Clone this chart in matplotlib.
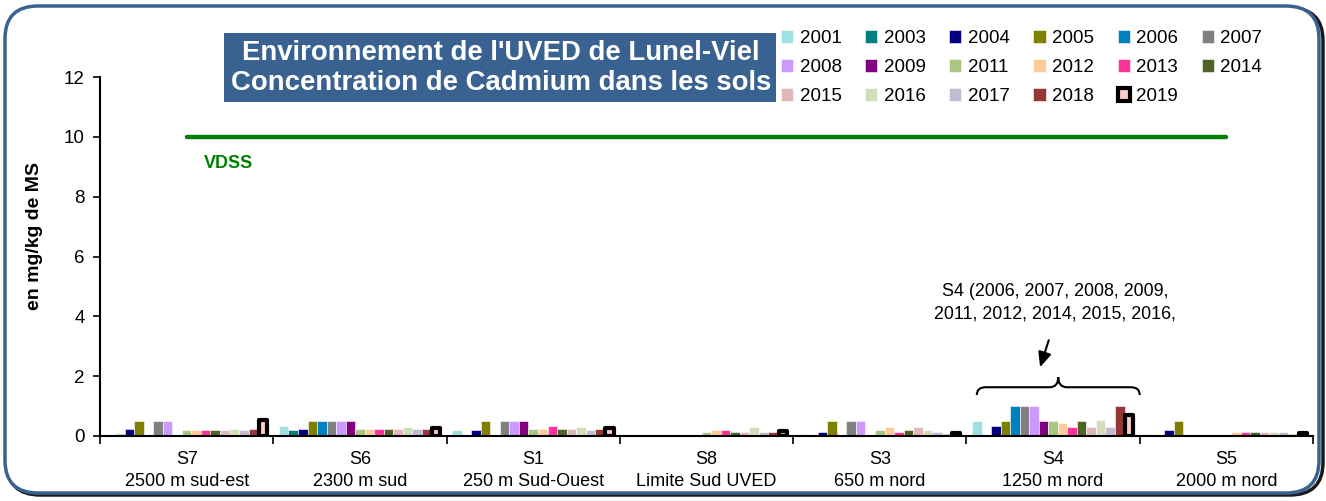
import numpy as np
import matplotlib
matplotlib.use("Agg")
import matplotlib.pyplot as plt
from matplotlib.patches import FancyBboxPatch, Rectangle, PathPatch
from matplotlib.path import Path

plt.rcParams['font.family'] = ['Liberation Sans', 'DejaVu Sans']

# sites (x categories)
sites = ['S7\n2500 m sud-est', 'S6\n2300 m sud', 'S1\n250 m Sud-Ouest', 'S8\nLimite Sud UVED',
         'S3\n650 m nord', 'S4\n1250 m nord', 'S5\n2000 m nord']

years = ['2001', '2003', '2004', '2005', '2006', '2007', '2008', '2009', '2011',
         '2012', '2013', '2014', '2015', '2016', '2017', '2018', '2019']

colors = ['#A0E0E0', '#008080', '#000080', '#808000', '#0080C0', '#808080', '#CC99FF',
          '#800080', '#ABC582', '#FFCC99', '#FF3399', '#4F6228', '#E0B8B8', '#D2DEBA',
          '#C3BBD2', '#953735', '#FFCCCC']

# cadmium values (mg/kg MS), one list per year, in site order S7,S6,S1,S8,S3,S4,S5
v2001 = [0.0, 0.35, 0.2, 0.0, 0.08, 0.5, 0.07]
v2003 = [0.08, 0.2, 0.0, 0.0, 0.0, 0.0, 0.0]
v2004 = [0.25, 0.25, 0.2, 0.0, 0.12, 0.35, 0.2]
v2005 = [0.5, 0.5, 0.5, 0.0, 0.5, 0.5, 0.5]
v2006 = [0.0, 0.5, 0.0, 0.0, 0.0, 1.0, 0.0]
v2007 = [0.5, 0.5, 0.5, 0.0, 0.5, 1.0, 0.0]
v2008 = [0.5, 0.5, 0.5, 0.0, 0.5, 1.0, 0.0]
v2009 = [0.0, 0.5, 0.5, 0.0, 0.0, 0.5, 0.0]
v2011 = [0.2, 0.22, 0.25, 0.13, 0.2, 0.5, 0.0]
v2012 = [0.2, 0.22, 0.25, 0.2, 0.3, 0.42, 0.12]
v2013 = [0.2, 0.22, 0.35, 0.2, 0.12, 0.3, 0.12]
v2014 = [0.2, 0.22, 0.25, 0.12, 0.2, 0.5, 0.12]
v2015 = [0.2, 0.22, 0.25, 0.12, 0.3, 0.3, 0.12]
v2016 = [0.23, 0.29, 0.3, 0.3, 0.2, 0.55, 0.12]
v2017 = [0.2, 0.22, 0.2, 0.12, 0.12, 0.3, 0.12]
v2018 = [0.25, 0.25, 0.25, 0.12, 0.07, 1.0, 0.07]
v2019 = [0.55, 0.27, 0.27, 0.17, 0.1, 0.7, 0.1]

values = [v2001, v2003, v2004, v2005, v2006, v2007, v2008, v2009, v2011,
          v2012, v2013, v2014, v2015, v2016, v2017, v2018, v2019]

vdss = 10

fig = plt.figure(figsize=(13.26, 5.01), dpi=100)

# rounded blue frame with shadow (behind the axes)
shadow = FancyBboxPatch((7 / 1326, 6 / 501), 1316 / 1326, 487 / 501,
                        boxstyle="round,pad=0,rounding_size=0.025",
                        transform=fig.transFigure, facecolor='none',
                        edgecolor='#1A1A1A', linewidth=2.5, mutation_aspect=2.6, zorder=-3)
fig.patches.append(shadow)
frame = FancyBboxPatch((5 / 1326, 8 / 501), 1314 / 1326, 487 / 501,
                       boxstyle="round,pad=0,rounding_size=0.025",
                       transform=fig.transFigure, facecolor='white',
                       edgecolor='#3A6291', linewidth=2.5, mutation_aspect=2.6, zorder=-2)
fig.patches.append(frame)

ax = fig.add_axes([100 / 1326, 1 - 436 / 501, 1213 / 1326, 359 / 501])
ax.patch.set_alpha(0)

x = np.arange(len(sites))
w = 0.055
for i, (yr, vals) in enumerate(zip(years, values)):
    pos = x + (i - 8) * w
    if yr == '2019':
        ax.bar(pos, vals, width=w * 0.85, color=colors[i], edgecolor='black',
               linewidth=3, joinstyle='round', label=yr, zorder=3)
    else:
        ax.bar(pos, vals, width=w, color=colors[i], edgecolor='white',
               linewidth=0.4, label=yr, zorder=2)

# VDSS threshold
ax.plot([0, len(sites) - 1], [vdss, vdss], color='#008000', linewidth=3.2,
        solid_capstyle='round', zorder=1)
ax.text(0.1, 9.1, 'VDSS', color='#008000', fontsize=13, fontweight='bold', va='center')

ax.set_xlim(-0.5, len(sites) - 0.5)
ax.set_ylim(0, 12)
ax.set_yticks([0, 2, 4, 6, 8, 10, 12])
ax.tick_params(axis='y', labelsize=13.5, direction='out', length=5, width=1.2, pad=6)
ax.set_xticks(np.arange(len(sites) + 1) - 0.5)
ax.set_xticklabels([])
ax.set_xticks(x, minor=True)
ax.set_xticklabels(sites, minor=True, fontsize=13, linespacing=1.35)
ax.tick_params(axis='x', which='major', direction='out', length=6, width=1.2)
ax.tick_params(axis='x', which='minor', length=0, pad=11)
for s in ['top', 'right']:
    ax.spines[s].set_visible(False)
for s in ['left', 'bottom']:
    ax.spines[s].set_linewidth(1.5)

# S4 annotation: brace, arrow and text
bx0, bx1, bxc = 4.56, 5.50, 5.03
ylo, ymid, ytop = 1.37, 1.63, 1.97
r = 0.05
verts = [(bx0, ylo), (bx0, ymid), (bx0 + r, ymid), (bxc - r, ymid), (bxc, ymid), (bxc, ytop),
         (bxc, ymid), (bxc + r, ymid), (bx1 - r, ymid), (bx1, ymid), (bx1, ylo)]
codes = [Path.MOVETO, Path.CURVE3, Path.CURVE3, Path.LINETO, Path.CURVE3, Path.CURVE3,
         Path.CURVE3, Path.CURVE3, Path.LINETO, Path.CURVE3, Path.CURVE3]
ax.add_patch(PathPatch(Path(verts, codes), facecolor='none', edgecolor='black',
                       linewidth=1.5, zorder=4))
ax.annotate('', xy=(4.925, 2.3), xytext=(4.975, 3.2),
            arrowprops=dict(arrowstyle='-|>,head_length=0.9,head_width=0.4',
                            color='black', lw=1.5, shrinkA=0, shrinkB=0))
ax.text(5.01, 4.45, 'S4 (2006, 2007, 2008, 2009,\n2011, 2012, 2014, 2015, 2016,',
        ha='center', va='center', fontsize=12.9, linespacing=1.4)

# y label
fig.text(35 / 1326, 1 - 236 / 501, 'en mg/kg de MS', rotation=90, fontsize=14,
         fontweight='bold', ha='center', va='center')

# title box
fig.patches.append(Rectangle((224 / 1326, 1 - 102 / 501), 552 / 1326, 69 / 501,
                             transform=fig.transFigure, facecolor='#3A6291',
                             edgecolor='none'))
fig.text(501 / 1326, 1 - 67.5 / 501,
         "Environnement de l'UVED de Lunel-Viel\nConcentration de Cadmium dans les sols",
         color='white', fontsize=19.8, fontweight='bold', ha='center', va='center',
         linespacing=1.2)

# legend, row-major order
handles, labels = ax.get_legend_handles_labels()
ncol = 6
order = []
for c in range(ncol):
    order += [k for k in range(c, len(handles), ncol)]
fig.legend([handles[k] for k in order], [labels[k] for k in order], ncol=ncol,
           loc='upper left', bbox_to_anchor=(781 / 1326, 1 - 30 / 501),
           frameon=False, fontsize=13.5, handlelength=0.65, handleheight=0.65,
           handletextpad=0.35, columnspacing=1.25, labelspacing=0.64, borderpad=0,
           borderaxespad=0)

fig.savefig('out.png', dpi=100)
